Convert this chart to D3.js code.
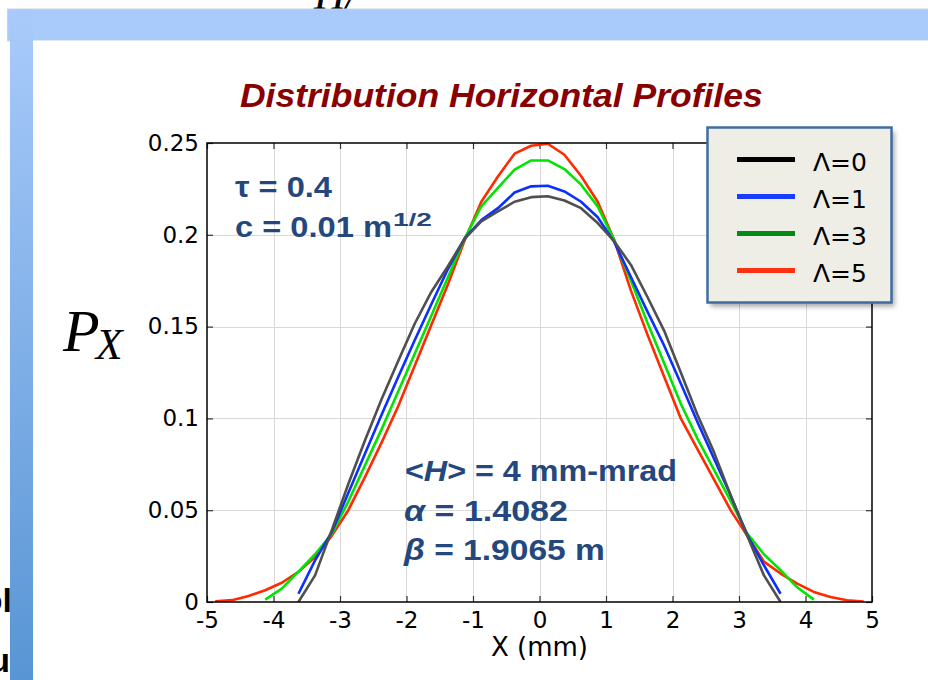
<!DOCTYPE html>
<html>
<head>
<meta charset="utf-8">
<script src="https://cdn.jsdelivr.net/npm/d3@7"></script>
<style>
  html, body { margin: 0; padding: 0; background: #ffffff; overflow: hidden; }
  svg { display: block; }
</style>
</head>
<body>
<svg id="chart" width="928" height="680"></svg>
<script>
// ---- Horizontal profile data: bin centres (mm) and P_X for each Λ ----
const xLambda0 = [-3.625,-3.375,-3.125,-2.875,-2.625,-2.375,-2.125,-1.875,-1.625,-1.375,-1.125,-0.875,-0.625,-0.375,-0.125,
                  0.125,0.375,0.625,0.875,1.125,1.375,1.625,1.875,2.125,2.375,2.625,2.875,3.125,3.375,3.625];
const pLambda0 = [0.0,0.0145,0.039,0.0643,0.088,0.1104,0.1313,0.1517,0.169,0.183,0.198,0.2073,0.2127,0.218,0.2205,
                  0.221,0.2187,0.2145,0.2064,0.1964,0.1836,0.166,0.1477,0.125,0.102,0.0815,0.058,0.036,0.0145,0.0];

const xLambda1 = [-3.625,-3.375,-3.125,-2.875,-2.625,-2.375,-2.125,-1.875,-1.625,-1.375,-1.125,-0.875,-0.625,-0.375,-0.125,
                  0.125,0.375,0.625,0.875,1.125,1.375,1.625,1.875,2.125,2.375,2.625,2.875,3.125,3.375,3.625];
const pLambda1 = [0.0045,0.0227,0.038,0.0594,0.0808,0.102,0.1225,0.1427,0.1623,0.1815,0.198,0.208,0.2145,0.223,0.2264,
                  0.2267,0.2236,0.218,0.2096,0.196,0.177,0.158,0.1396,0.119,0.098,0.078,0.058,0.0364,0.02,0.0045];

const xLambda3 = [-4.125,-3.875,-3.625,-3.375,-3.125,-2.875,-2.625,-2.375,-2.125,-1.875,-1.625,-1.375,-1.125,-0.875,-0.625,-0.375,-0.125,
                  0.125,0.375,0.625,0.875,1.125,1.375,1.625,1.875,2.125,2.375,2.625,2.875,3.125,3.375,3.625,3.875,4.125];
const pLambda3 = [0.0013,0.0073,0.0165,0.026,0.037,0.0547,0.0744,0.094,0.1146,0.1354,0.156,0.177,0.198,0.2155,0.2255,0.2355,0.2405,
                  0.2405,0.2358,0.2273,0.2155,0.197,0.175,0.152,0.130,0.108,0.089,0.072,0.055,0.0373,0.026,0.0173,0.008,0.0013];

const xLambda5 = [-4.875,-4.625,-4.375,-4.125,-3.875,-3.625,-3.375,-3.125,-2.875,-2.625,-2.375,-2.125,-1.875,-1.625,-1.375,-1.125,-0.875,-0.625,-0.375,-0.125,
                  0.125,0.375,0.625,0.875,1.125,1.375,1.625,1.875,2.125,2.375,2.625,2.875,3.125,3.375,3.625,3.875,4.125,4.375,4.625,4.875];
const pLambda5 = [0.0004,0.001,0.0033,0.0064,0.0105,0.0164,0.0245,0.036,0.050,0.068,0.0868,0.1066,0.1288,0.151,0.1732,0.197,0.218,0.2318,0.2442,0.2485,
                  0.2496,0.2436,0.232,0.218,0.197,0.1696,0.1455,0.1227,0.1,0.0833,0.0667,0.05,0.036,0.022,0.0155,0.010,0.0055,0.0027,0.0009,0.0002];

const seriesNames = ["Λ=0", "Λ=1", "Λ=3", "Λ=5"];
const xTicks = [-5,-4,-3,-2,-1,0,1,2,3,4,5];
const yTicks = [0, 0.05, 0.1, 0.15, 0.2, 0.25];
const yTickLabels = ["0", "0.05", "0.1", "0.15", "0.2", "0.25"];

// ---- layout ----
const svg = d3.select("#chart");
const defs = svg.append("defs");

const plot = { left: 207, right: 872, top: 143, bottom: 602 };
const x = d3.scaleLinear().domain([-5, 5]).range([plot.left, plot.right]);
const y = d3.scaleLinear().domain([0, 0.25]).range([plot.bottom, plot.top]);

const series = [
  { name: seriesNames[0], xs: xLambda0, ys: pLambda0, line: "#4f4f4f", key: "#000000" },
  { name: seriesNames[1], xs: xLambda1, ys: pLambda1, line: "#0a30ff", key: "#1a3cff" },
  { name: seriesNames[2], xs: xLambda3, ys: pLambda3, line: "#00e400", key: "#008c14" },
  { name: seriesNames[3], xs: xLambda5, ys: pLambda5, line: "#ff2a00", key: "#ff3010" }
];

// stretch a text node horizontally so it spans a given width
function fitWidth(sel, width) {
  const n = sel.node();
  const w = n.getComputedTextLength();
  const tx = +sel.attr("x"), ty = +sel.attr("y");
  const s = width / w;
  sel.attr("transform", `translate(${tx},${ty}) scale(${s},1) translate(${-tx},${-ty})`);
}

// ---- slide backdrop ----
const grad = defs.append("linearGradient").attr("id", "stripGrad")
  .attr("x1", 0).attr("y1", 0).attr("x2", 0).attr("y2", 1);
grad.append("stop").attr("offset", "0%").attr("stop-color", "#a9cbfb");
grad.append("stop").attr("offset", "100%").attr("stop-color", "#5895d4");

const bgText = svg.append("g").attr("fill", "#000");
bgText.append("text").attr("x", 314).attr("y", 9)
  .attr("font-family", "Liberation Serif").attr("font-style", "italic")
  .attr("font-size", 44).text("H/");
bgText.append("text").attr("x", 12).attr("y", 612).attr("text-anchor", "end")
  .attr("font-family", "Liberation Sans").attr("font-weight", "bold")
  .attr("font-size", 34).text("ol");
bgText.append("text").attr("x", 10).attr("y", 672).attr("text-anchor", "end")
  .attr("font-family", "Liberation Sans").attr("font-weight", "bold")
  .attr("font-size", 34).text("u");

svg.append("rect").attr("x", 7).attr("y", 8.5).attr("width", 925).attr("height", 33)
  .attr("fill", "#c9d3df");
svg.append("rect").attr("x", 8).attr("y", 9.5).attr("width", 920).attr("height", 31)
  .attr("fill", "#a9cbfb");
svg.append("rect").attr("x", 10).attr("y", 9.5).attr("width", 23).attr("height", 671)
  .attr("fill", "url(#stripGrad)");
svg.append("rect").attr("x", 33).attr("y", 40.5).attr("width", 895).attr("height", 640)
  .attr("fill", "#ffffff");

// ---- title ----
const title = svg.append("text").attr("x", 240).attr("y", 107)
  .attr("font-family", "Liberation Sans").attr("font-weight", "bold").attr("font-style", "italic")
  .attr("font-size", 33).attr("fill", "#880000")
  .text("Distribution Horizontal Profiles");
fitWidth(title, 523);

// ---- grid ----
const grid = svg.append("g").attr("stroke", "#d9d9d9").attr("stroke-width", 1);
grid.selectAll("line.gx").data(xTicks.slice(1, -1)).join("line")
  .attr("x1", d => Math.round(x(d)) + 0.5).attr("x2", d => Math.round(x(d)) + 0.5)
  .attr("y1", plot.top).attr("y2", plot.bottom);
grid.selectAll("line.gy").data(yTicks.slice(1, -1)).join("line")
  .attr("y1", d => Math.round(y(d)) + 0.5).attr("y2", d => Math.round(y(d)) + 0.5)
  .attr("x1", plot.left).attr("x2", plot.right);

// ---- axes (inward ticks on all four sides) ----
const tickFont = "DejaVu Sans";
const fmtX = d => String(d).replace("−", "-");
const axB = svg.append("g").attr("transform", `translate(0,${plot.bottom})`)
  .call(d3.axisBottom(x).tickValues(xTicks).tickFormat(fmtX).tickSize(-6).tickPadding(10).tickSizeOuter(0));
const axL = svg.append("g").attr("transform", `translate(${plot.left},0)`)
  .call(d3.axisLeft(y).tickValues(yTicks).tickFormat((d, i) => yTickLabels[i]).tickSize(-6).tickPadding(8).tickSizeOuter(0));
const axT = svg.append("g").attr("transform", `translate(0,${plot.top})`)
  .call(d3.axisTop(x).tickValues(xTicks).tickFormat("").tickSize(-6).tickSizeOuter(0));
const axR = svg.append("g").attr("transform", `translate(${plot.right},0)`)
  .call(d3.axisRight(y).tickValues(yTicks).tickFormat("").tickSize(-6).tickSizeOuter(0));
[axB, axL, axT, axR].forEach(a => {
  a.select(".domain").remove();
  a.selectAll(".tick line").attr("stroke", "#333").attr("stroke-width", 1.2);
  a.selectAll(".tick text").attr("font-family", tickFont).attr("font-size", 23).attr("fill", "#000");
});

// ---- curves ----
const clip = defs.append("clipPath").attr("id", "plotClip");
clip.append("rect").attr("x", plot.left).attr("y", plot.top - 4)
  .attr("width", plot.right - plot.left).attr("height", plot.bottom - plot.top + 4);

const line = d3.line().x(d => x(d[0])).y(d => y(d[1]));
const curves = svg.append("g").attr("clip-path", "url(#plotClip)");
[series[3], series[2], series[1], series[0]].forEach(s => {
  curves.append("path")
    .datum(s.xs.map((v, i) => [v, s.ys[i]]))
    .attr("d", line)
    .attr("fill", "none")
    .attr("stroke", s.line)
    .attr("stroke-width", 2.6)
    .attr("stroke-linejoin", "round");
});

// ---- frame ----
svg.append("rect").attr("x", plot.left).attr("y", plot.top)
  .attr("width", plot.right - plot.left).attr("height", plot.bottom - plot.top)
  .attr("fill", "none").attr("stroke", "#000").attr("stroke-width", 1.5);

// ---- axis titles ----
svg.append("text").attr("x", x(0)).attr("y", 656).attr("text-anchor", "middle")
  .attr("font-family", tickFont).attr("font-size", 26).attr("fill", "#000")
  .text("X (mm)");
const pLabel = svg.append("text").attr("x", 63).attr("y", 351)
  .attr("font-family", "Liberation Serif").attr("font-style", "italic").attr("fill", "#000");
pLabel.append("tspan").attr("font-size", 60).text("P");
pLabel.append("tspan").attr("font-size", 44).attr("dx", -4).attr("dy", 8).text("X");

// ---- parameter annotations ----
const noteColor = "#24487d";
const noteFont = "Liberation Sans";
function note(xp, yp, parts, width, size) {
  const t = svg.append("text").attr("x", xp).attr("y", yp)
    .attr("font-family", noteFont).attr("font-weight", "bold")
    .attr("font-size", size).attr("fill", noteColor);
  parts.forEach(p => {
    t.append("tspan").attr("font-style", p.italic ? "italic" : "normal").text(p.t);
  });
  fitWidth(t, width);
  return t;
}
note(235, 197, [{ t: "τ = 0.4" }], 97, 29);
note(235, 237, [{ t: "c = 0.01 m" }], 157, 29);
note(393, 226, [{ t: "1/2" }], 39, 19);
note(405, 481, [{ t: "<" }, { t: "H", italic: true }, { t: "> = 4 mm-mrad" }], 272, 29);
note(404, 521, [{ t: "α", italic: true }, { t: " = 1.4082" }], 164, 29);
note(404, 560, [{ t: "β", italic: true }, { t: " = 1.9065 m" }], 201, 29);

// ---- legend ----
const shadow = defs.append("filter").attr("id", "legShadow")
  .attr("x", "-10%").attr("y", "-10%").attr("width", "130%").attr("height", "130%");
shadow.append("feGaussianBlur").attr("stdDeviation", 2.5);

const leg = { x: 707.5, y: 127.5, w: 184, h: 175 };
svg.append("rect").attr("x", leg.x + 3).attr("y", leg.y + 4)
  .attr("width", leg.w).attr("height", leg.h)
  .attr("fill", "rgba(0,0,0,0.35)").attr("filter", "url(#legShadow)");
svg.append("rect").attr("x", leg.x).attr("y", leg.y).attr("width", leg.w).attr("height", leg.h)
  .attr("fill", "#efeee6").attr("stroke", "#3f6d9f").attr("stroke-width", 2.5);

const legY = d3.scalePoint().domain(seriesNames).range([159.5, 270.5]);
const items = svg.append("g").selectAll("g").data(series).join("g");
items.append("line")
  .attr("x1", 737).attr("x2", 795)
  .attr("y1", d => legY(d.name)).attr("y2", d => legY(d.name))
  .attr("stroke", d => d.key).attr("stroke-width", 5);
items.append("text")
  .attr("x", 813).attr("y", d => legY(d.name) + 11)
  .attr("font-family", tickFont).attr("font-size", 25).attr("fill", "#000")
  .text(d => d.name);
</script>
</body>
</html>
